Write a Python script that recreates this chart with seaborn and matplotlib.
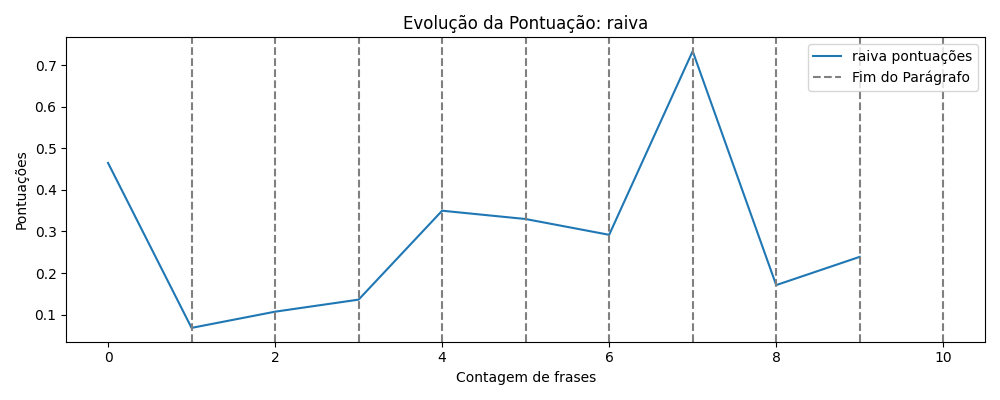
import matplotlib
matplotlib.use("Agg")
import matplotlib.pyplot as plt
import seaborn as sns
import pandas as pd

frases = [0, 1, 2, 3, 4, 5, 6, 7, 8, 9]
pontuacoes = [0.465, 0.068, 0.107, 0.136, 0.350, 0.330, 0.292, 0.734, 0.171, 0.239]
fim_paragrafo = [1, 2, 3, 4, 5, 6, 7, 8, 9, 10]

df = pd.DataFrame({"frase": frases, "pontuacao": pontuacoes})

fig, ax = plt.subplots(figsize=(10, 4), dpi=100)
sns.lineplot(data=df, x="frase", y="pontuacao", ax=ax, label="raiva pontuações", color="#1f77b4")
for i, p in enumerate(fim_paragrafo):
    ax.axvline(p, color="gray", linestyle="--", label="Fim do Parágrafo" if i == 0 else None)
ax.set_title("Evolução da Pontuação: raiva")
ax.set_xlabel("Contagem de frases")
ax.set_ylabel("Pontuações")
ax.legend(loc="upper right")
fig.tight_layout()
fig.savefig("out.png")
